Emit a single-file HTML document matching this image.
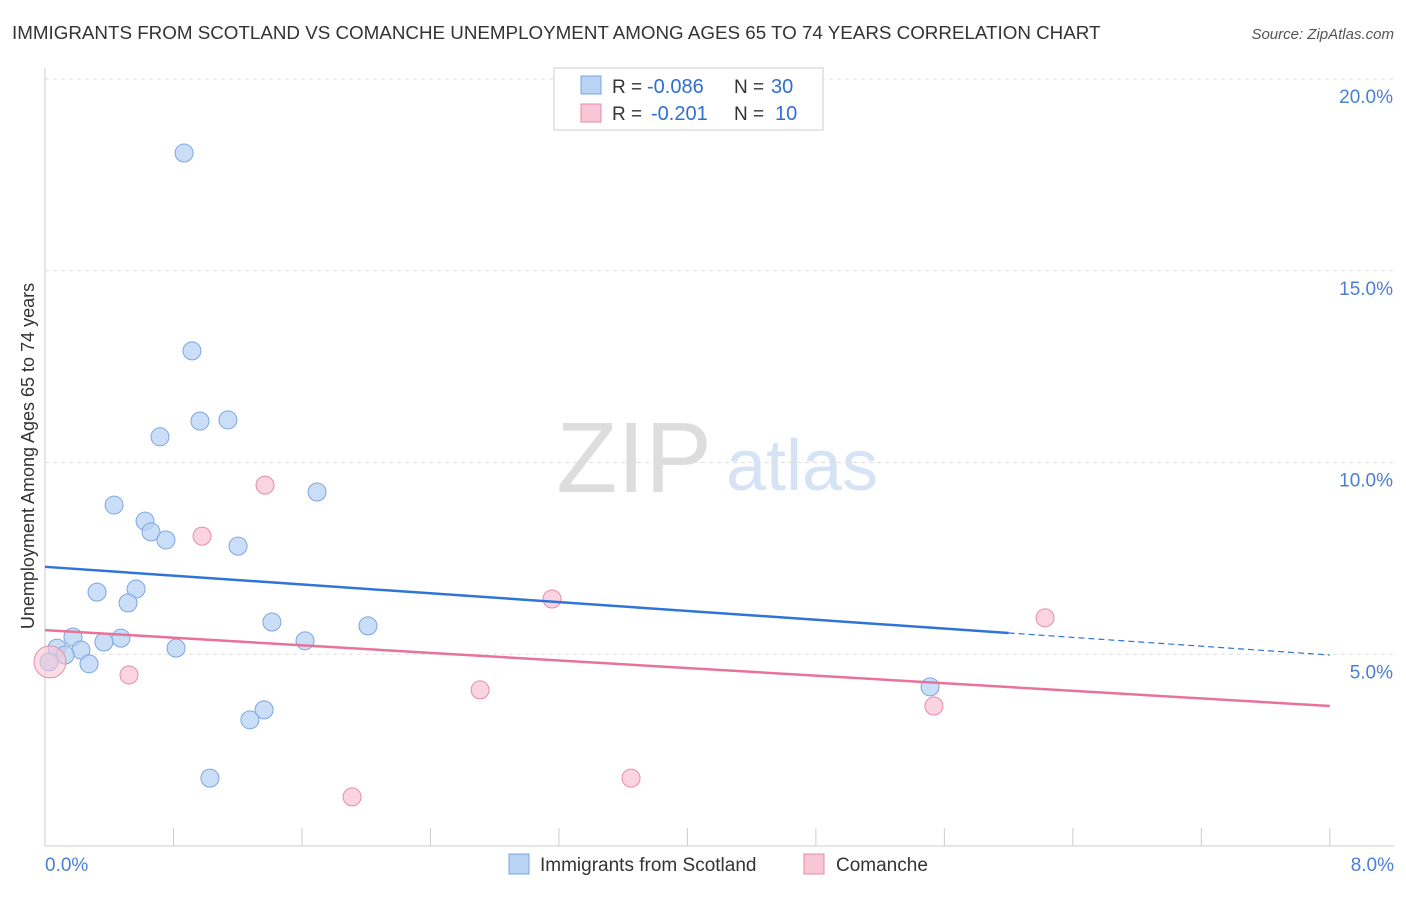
<!DOCTYPE html>
<html><head><meta charset="utf-8"><style>
body{margin:0;background:#fff;font-family:"Liberation Sans",sans-serif;}
svg text{font-family:"Liberation Sans",sans-serif;}
</style></head><body>
<svg id="c" width="1406" height="892">
<text x="12" y="39" font-size="18.8" fill="#333">IMMIGRANTS FROM SCOTLAND VS COMANCHE UNEMPLOYMENT AMONG AGES 65 TO 74 YEARS CORRELATION CHART</text>
<text x="1394" y="39" font-size="15" fill="#555" text-anchor="end" font-style="italic">Source: ZipAtlas.com</text>
<text x="34" y="456" font-size="18" fill="#333" text-anchor="middle" transform="rotate(-90 34 456)">Unemployment Among Ages 65 to 74 years</text>
<text x="634" y="492" font-size="100" fill="#ddd" text-anchor="middle" font-family="Liberation Serif">ZIP</text>
<text x="802" y="490" font-size="72" fill="#d6e3f5" text-anchor="middle">atlas</text>
<g id="grid"></g><g id="marks"></g>
<g>
<rect x="554" y="68" width="269" height="62" fill="#fff" stroke="#ccc"/>
<rect x="581" y="76" width="20" height="18" fill="#b9d3f5" stroke="#7aa6e0"/>
<text x="612" y="93" font-size="19" fill="#333">R =</text>
<text x="647" y="93" font-size="20" fill="#2f6fd0">-0.086</text>
<text x="734" y="93" font-size="19" fill="#333">N =</text>
<text x="771" y="93" font-size="20" fill="#2f6fd0">30</text>
<rect x="581" y="104" width="20" height="18" fill="#f8c6d5" stroke="#e98aa8"/>
<text x="612" y="120" font-size="19" fill="#333">R =</text>
<text x="651" y="120" font-size="20" fill="#2f6fd0">-0.201</text>
<text x="734" y="120" font-size="19" fill="#333">N =</text>
<text x="775" y="120" font-size="20" fill="#2f6fd0">10</text>
</g>
<g>
<rect x="509" y="854" width="20" height="20" fill="#b9d3f5" stroke="#7aa6e0"/>
<text x="540" y="871" font-size="19" fill="#333">Immigrants from Scotland</text>
<rect x="804" y="854" width="20" height="20" fill="#f8c6d5" stroke="#e98aa8"/>
<text x="836" y="871" font-size="19" fill="#333">Comanche</text>
</g>
</svg>
<script>
const blueX=[0.866,0.915,0.965,1.139,0.716,1.694,0.430,0.623,0.660,0.753,1.202,0.324,0.567,0.517,1.413,2.011,0.174,0.473,0.367,1.619,0.816,0.224,0.075,0.125,0.274,0.025,5.511,1.364,1.276,1.027];
const blueY=[18.07,12.91,11.08,11.11,10.67,9.23,8.89,8.47,8.19,7.98,7.82,6.62,6.70,6.34,5.84,5.74,5.45,5.42,5.32,5.35,5.16,5.11,5.16,4.98,4.75,4.80,4.15,3.55,3.29,1.77];
const pinkX=[1.370,0.978,3.157,6.227,0.523,2.709,5.535,3.649,1.912,0.031];
const pinkY=[9.41,8.08,6.44,5.95,4.46,4.07,3.65,1.77,1.28,4.80];
const blueLine=[7.28,4.98], pinkLine=[5.63,3.65];
const yTicks=[5,10,15,20];
const xTickLabels=["0.0%","8.0%"];
const X=v=>45+v*160.6, Y=v=>846-v*38.35;
const NS="http://www.w3.org/2000/svg";
function mk(p,t,a){const e=document.createElementNS(NS,t);for(const k in a)e.setAttribute(k,a[k]);p.appendChild(e);return e;}
const g=document.getElementById('grid'), m=document.getElementById('marks');
let ax=mk(g,'line',{x1:45,y1:68,x2:45,y2:846,stroke:'#ccc'});


let bx=mk(g,'line',{x1:45,y1:846,x2:1394,y2:846,stroke:'#ccc'});


yTicks.forEach(t=>{
 const l=mk(g,'line',{x1:45,x2:1394,y1:Y(t),y2:Y(t),stroke:'#ddd','stroke-dasharray':'4 4'});
 
 
 const tx=mk(g,'text',{x:1393,y:Y(t)+24,'font-size':19,fill:'#4a7fd4','text-anchor':'end'});tx.textContent=t.toFixed(1)+'%';
 
 
});
for(let i=0;i<=10;i++){const v=i*0.8;const l=mk(g,'line',{x1:X(v),x2:X(v),y1:828,y2:846,stroke:'#ccc'});
 
 }
[[0,'start',45],[8,'end',1394]].forEach((d,i)=>{const tx=mk(g,'text',{x:d[2],y:871,'font-size':19,fill:'#4a7fd4','text-anchor':d[1]});tx.textContent=xTickLabels[i];
 
 });
function pts(xs,ys,f,s,name){xs.forEach((x,i)=>{const big=(i===xs.length-1&&x<0.05);const c=mk(m,'circle',{cx:X(x),cy:Y(ys[i]),r:big?16:9,fill:f,'fill-opacity':big?0.6:0.75,stroke:s,'stroke-width':1});
 
 });}
pts(blueX,blueY,'#b9d3f5','#7aa6e0','scotland-point');
pts(pinkX,pinkY,'#f8c6d5','#e98aa8','comanche-point');
const lerp=(a,v)=>a[0]+(a[1]-a[0])*v/8;
let bl=mk(m,'line',{x1:X(0),y1:Y(blueLine[0]),x2:X(6),y2:Y(lerp(blueLine,6)),stroke:'#2f74d6','stroke-width':2.5});


let bd=mk(m,'line',{x1:X(6),y1:Y(lerp(blueLine,6)),x2:X(8),y2:Y(blueLine[1]),stroke:'#2f74d6','stroke-width':1.2,'stroke-dasharray':'6 4'});


let pl=mk(m,'line',{x1:X(0),y1:Y(pinkLine[0]),x2:X(8),y2:Y(pinkLine[1]),stroke:'#e8739a','stroke-width':2.5});


</script>
</body></html>
